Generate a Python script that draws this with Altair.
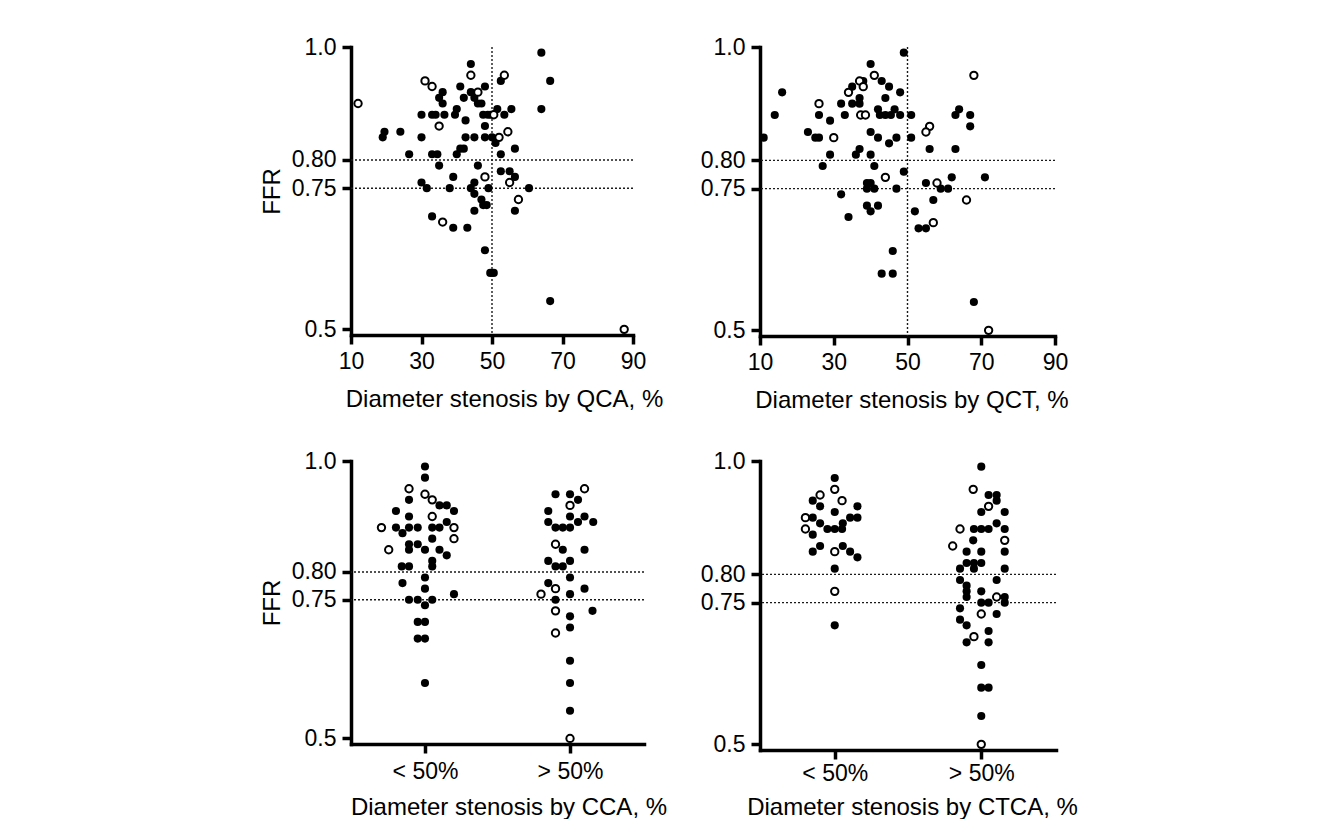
import altair as alt
import pandas as pd

# ---------------- data ----------------
THRESHOLDS = [0.80, 0.75]
CUTOFF = 50
Y_TICKS = [0.5, 0.75, 0.80, 1.0]
X_TICKS = [10, 30, 50, 70, 90]
GROUPS = ["< 50%", "> 50%"]

# (diameter stenosis %, FFR, kind)  F = filled, O = open
QCA = [
    (64, .99, "F"), (44, .97, "F"), (44, .95, "O"), (53.5, .95, "O"), (52.5, .94, "F"),
    (66.5, .94, "F"), (31, .94, "O"), (33, .93, "O"), (41, .93, "F"), (48, .93, "F"),
    (36, .92, "F"), (44, .92, "F"), (46, .92, "O"), (35, .91, "F"), (42, .91, "F"),
    (45, .91, "F"), (36, .90, "F"), (46, .90, "F"), (47, .90, "F"), (12, .90, "O"),
    (40, .89, "F"), (51.5, .89, "F"), (55.5, .89, "F"), (64, .89, "F"), (30, .88, "F"),
    (33, .88, "F"), (34, .88, "F"), (36.5, .88, "F"), (39.5, .88, "F"), (47.5, .88, "F"),
    (48.8, .88, "F"), (49.6, .88, "F"), (50.5, .88, "O"), (53.5, .88, "F"), (35, .86, "O"),
    (42.5, .87, "F"), (48, .86, "F"), (54.5, .85, "O"), (19.5, .85, "F"), (19, .84, "F"),
    (24, .85, "F"), (30, .84, "F"), (42.5, .84, "F"), (45, .84, "F"), (48, .84, "F"),
    (50, .84, "F"), (52, .84, "O"), (51, .83, "F"), (41, .82, "F"), (42, .82, "F"),
    (56.5, .82, "F"), (26.5, .81, "F"), (33, .81, "F"), (34.5, .81, "F"), (40, .81, "F"),
    (52.5, .81, "F"), (35, .79, "F"), (46, .79, "F"), (48, .77, "O"), (52.5, .78, "F"),
    (55, .78, "F"), (56.5, .77, "F"), (39, .77, "F"), (30, .76, "F"), (55, .76, "O"),
    (45, .76, "F"), (31.5, .75, "F"), (38, .75, "F"), (44, .75, "F"), (49, .75, "F"),
    (60.5, .75, "F"), (45, .74, "F"), (47, .73, "F"), (57.5, .73, "O"), (47.5, .72, "F"),
    (48.5, .72, "F"), (45, .71, "F"), (56.5, .71, "F"), (33, .70, "F"), (36, .69, "O"),
    (39, .68, "F"), (43, .68, "F"), (48, .64, "F"), (49.5, .60, "F"), (50.5, .60, "F"),
    (66.5, .55, "F"), (87.5, .50, "O"),
]

QCT = [
    (49, .99, "F"), (40, .97, "F"), (41, .95, "O"), (68, .95, "O"), (37, .94, "O"),
    (38, .94, "F"), (43, .94, "F"), (38, .93, "O"), (35, .93, "F"), (45, .93, "F"),
    (34, .92, "O"), (16, .92, "F"), (48, .92, "F"), (44, .91, "F"), (37, .91, "F"),
    (26, .90, "O"), (32, .90, "F"), (35, .90, "F"), (37, .90, "F"), (42, .89, "F"),
    (46.5, .89, "F"), (64, .89, "F"), (14, .88, "F"), (26, .88, "F"), (33, .88, "F"),
    (37.3, .88, "O"), (38.6, .88, "O"), (42.5, .88, "F"), (44, .88, "F"), (45.5, .88, "F"),
    (48, .88, "F"), (51, .88, "F"), (63, .88, "F"), (67, .88, "F"), (29, .87, "F"),
    (56, .86, "O"), (67, .86, "F"), (23, .85, "F"), (55, .85, "O"), (40, .85, "F"),
    (11, .84, "F"), (25, .84, "F"), (26, .84, "F"), (30, .84, "O"), (42, .84, "F"),
    (47, .84, "F"), (51, .84, "F"), (45, .83, "F"), (37, .82, "F"), (56, .82, "F"),
    (63, .82, "F"), (29, .81, "F"), (36, .81, "F"), (40, .81, "F"), (27, .79, "F"),
    (41, .79, "F"), (49, .78, "F"), (44, .77, "O"), (62, .77, "F"), (71, .77, "F"),
    (39, .76, "F"), (40, .76, "F"), (55, .76, "F"), (58, .76, "O"), (39, .75, "F"),
    (41, .75, "F"), (47, .75, "F"), (59, .75, "F"), (61, .75, "F"), (32, .74, "F"),
    (57, .73, "F"), (66, .73, "O"), (39, .72, "F"), (42, .72, "F"), (40, .71, "F"),
    (52, .71, "F"), (34, .70, "F"), (57, .69, "O"), (53, .68, "F"), (55, .68, "F"),
    (46, .64, "F"), (43, .60, "F"), (46, .60, "F"), (68, .55, "F"), (72, .50, "O"),
]

# (group, horizontal scatter offset within group, FFR, kind)
CCA = [
    ("< 50%", 0, .99, "F"), ("< 50%", 0, .97, "F"), ("< 50%", -.11, .95, "O"),
    ("< 50%", 0, .94, "O"), ("< 50%", -.11, .93, "F"), ("< 50%", .05, .93, "O"),
    ("< 50%", .10, .92, "F"), ("< 50%", .15, .92, "F"), ("< 50%", .20, .91, "F"),
    ("< 50%", -.20, .91, "F"), ("< 50%", -.11, .90, "F"), ("< 50%", .05, .90, "O"),
    ("< 50%", .15, .89, "F"), ("< 50%", -.30, .88, "O"), ("< 50%", -.20, .88, "F"),
    ("< 50%", -.155, .87, "F"), ("< 50%", -.11, .88, "F"), ("< 50%", -.05, .88, "F"),
    ("< 50%", .05, .88, "F"), ("< 50%", .10, .88, "F"), ("< 50%", .20, .88, "O"),
    ("< 50%", .20, .86, "O"), ("< 50%", .05, .86, "F"), ("< 50%", -.11, .85, "F"),
    ("< 50%", -.05, .85, "F"), ("< 50%", -.11, .84, "F"), ("< 50%", -.25, .84, "O"),
    ("< 50%", 0, .84, "F"), ("< 50%", .10, .84, "F"), ("< 50%", .15, .83, "F"),
    ("< 50%", .05, .82, "F"), ("< 50%", .05, .81, "F"), ("< 50%", -.16, .81, "F"),
    ("< 50%", -.11, .81, "F"), ("< 50%", 0, .79, "F"), ("< 50%", -.155, .78, "F"),
    ("< 50%", 0, .77, "F"), ("< 50%", .20, .76, "F"), ("< 50%", -.11, .75, "F"),
    ("< 50%", -.05, .75, "F"), ("< 50%", .05, .75, "F"), ("< 50%", 0, .74, "F"),
    ("< 50%", -.05, .71, "F"), ("< 50%", 0, .71, "F"), ("< 50%", -.05, .68, "F"),
    ("< 50%", 0, .68, "F"), ("< 50%", 0, .60, "F"),
    ("> 50%", .10, .95, "O"), ("> 50%", -.10, .94, "F"), ("> 50%", 0, .94, "F"),
    ("> 50%", .055, .93, "F"), ("> 50%", 0, .92, "O"), ("> 50%", -.15, .91, "F"),
    ("> 50%", 0, .90, "F"), ("> 50%", .10, .90, "F"), ("> 50%", -.15, .89, "F"),
    ("> 50%", .055, .89, "F"), ("> 50%", .16, .89, "F"), ("> 50%", -.10, .88, "F"),
    ("> 50%", -.05, .88, "F"), ("> 50%", 0, .88, "F"), ("> 50%", -.10, .85, "O"),
    ("> 50%", -.05, .84, "F"), ("> 50%", .10, .84, "F"), ("> 50%", -.15, .82, "F"),
    ("> 50%", -.10, .81, "F"), ("> 50%", -.05, .81, "F"), ("> 50%", 0, .82, "F"),
    ("> 50%", 0, .79, "F"), ("> 50%", -.15, .78, "F"), ("> 50%", -.10, .77, "O"),
    ("> 50%", .10, .77, "F"), ("> 50%", -.20, .76, "O"), ("> 50%", 0, .76, "F"),
    ("> 50%", -.10, .75, "F"), ("> 50%", -.10, .73, "O"), ("> 50%", .155, .73, "F"),
    ("> 50%", 0, .72, "F"), ("> 50%", 0, .70, "F"), ("> 50%", -.10, .69, "O"),
    ("> 50%", 0, .64, "F"), ("> 50%", 0, .60, "F"), ("> 50%", 0, .55, "F"),
    ("> 50%", 0, .50, "O"),
]

CTCA = [
    ("< 50%", 0, .97, "F"), ("< 50%", 0, .95, "O"), ("< 50%", -.10, .94, "O"),
    ("< 50%", -.15, .93, "F"), ("< 50%", .05, .93, "O"), ("< 50%", -.10, .92, "F"),
    ("< 50%", .155, .92, "F"), ("< 50%", 0, .91, "F"), ("< 50%", -.20, .90, "O"),
    ("< 50%", -.15, .90, "F"), ("< 50%", .105, .90, "F"), ("< 50%", .155, .90, "F"),
    ("< 50%", -.10, .89, "F"), ("< 50%", .055, .89, "F"), ("< 50%", -.20, .88, "O"),
    ("< 50%", -.05, .88, "F"), ("< 50%", 0, .88, "F"), ("< 50%", .05, .88, "F"),
    ("< 50%", -.15, .87, "F"), ("< 50%", -.10, .85, "F"), ("< 50%", .055, .85, "F"),
    ("< 50%", -.15, .84, "F"), ("< 50%", 0, .84, "O"), ("< 50%", .105, .84, "F"),
    ("< 50%", .155, .83, "F"), ("< 50%", 0, .81, "F"), ("< 50%", 0, .77, "O"),
    ("< 50%", 0, .71, "F"),
    ("> 50%", 0, .99, "F"), ("> 50%", -.055, .95, "O"), ("> 50%", .05, .94, "F"),
    ("> 50%", .105, .94, "F"), ("> 50%", .105, .93, "F"), ("> 50%", .05, .92, "O"),
    ("> 50%", 0, .91, "F"), ("> 50%", .16, .91, "F"), ("> 50%", .105, .89, "F"),
    ("> 50%", -.145, .88, "O"), ("> 50%", -.05, .88, "F"), ("> 50%", 0, .88, "F"),
    ("> 50%", .05, .88, "F"), ("> 50%", .16, .88, "F"), ("> 50%", -.055, .86, "F"),
    ("> 50%", .16, .86, "O"), ("> 50%", -.195, .85, "O"), ("> 50%", -.10, .84, "F"),
    ("> 50%", 0, .84, "F"), ("> 50%", .16, .84, "F"), ("> 50%", -.10, .82, "F"),
    ("> 50%", -.05, .82, "F"), ("> 50%", 0, .82, "F"), ("> 50%", -.05, .81, "F"),
    ("> 50%", -.145, .81, "F"), ("> 50%", .16, .81, "F"), ("> 50%", -.145, .79, "F"),
    ("> 50%", .105, .79, "F"), ("> 50%", -.10, .78, "F"), ("> 50%", -.10, .77, "F"),
    ("> 50%", -.10, .76, "F"), ("> 50%", 0, .77, "F"), ("> 50%", .105, .76, "O"),
    ("> 50%", .16, .76, "F"), ("> 50%", .16, .75, "F"), ("> 50%", 0, .75, "F"),
    ("> 50%", .05, .75, "F"), ("> 50%", -.145, .74, "F"), ("> 50%", 0, .73, "O"),
    ("> 50%", .105, .73, "F"), ("> 50%", -.145, .72, "F"), ("> 50%", -.10, .71, "F"),
    ("> 50%", .05, .70, "F"), ("> 50%", -.05, .69, "O"), ("> 50%", -.10, .68, "F"),
    ("> 50%", .05, .68, "F"), ("> 50%", 0, .64, "F"), ("> 50%", 0, .60, "F"),
    ("> 50%", .05, .60, "F"), ("> 50%", 0, .55, "F"), ("> 50%", 0, .50, "O"),
]

# ---------------- chart building ----------------
FONT = "Liberation Sans"
Y_DOMAIN = [0.49, 1.0]
Y_LABELS = "datum.value == 1 ? '1.0' : (datum.value == 0.5 ? '0.5' : format(datum.value, '.2f'))"

AXIS_LOOK = dict(
    domainColor="black", domainWidth=3.5, domainCap="square", domainOpacity=1,
    tickColor="black", tickWidth=3.5, tickSize=9, tickOpacity=1,
    labelFont=FONT, labelFontSize=23, labelColor="black",
    labelOverlap=False, labelFlush=False, labelBound=False,
    titleFont=FONT, titleFontSize=24, titleFontWeight="normal", titleColor="black",
    grid=False,
)


def y_axis(show_title):
    return alt.Axis(values=Y_TICKS, labelExpr=Y_LABELS, titlePadding=7, labelPadding=6,
                    title="FFR" if show_title else "", **AXIS_LOOK)


def y_scale():
    return alt.Scale(domain=Y_DOMAIN, nice=False, zero=False)


def points(base, x_enc, show_title):
    y = alt.Y("ffr:Q", scale=y_scale(), axis=y_axis(show_title))
    filled = base.transform_filter(alt.datum.kind == "F").mark_point(
        shape="circle", filled=True, color="black", size=66, opacity=1
    ).encode(x=x_enc, y=y)
    hollow = base.transform_filter(alt.datum.kind == "O").mark_point(
        shape="circle", filled=False, fill="white", fillOpacity=1, stroke="black",
        strokeWidth=2, size=54, opacity=1
    ).encode(x=x_enc, y=y)
    return filled, hollow


def hrules(show_title):
    return alt.Chart(pd.DataFrame({"t": THRESHOLDS})).mark_rule(
        color="#1a1a1a", strokeWidth=1.4, strokeDash=[2, 2]
    ).encode(y=alt.Y("t:Q", scale=y_scale(), axis=y_axis(show_title)))


def scatter_panel(rows, title, width, height, show_title, title_shift):
    df = pd.DataFrame(rows, columns=["x", "ffr", "kind"])
    base = alt.Chart(df)
    xs = alt.Scale(domain=[10, 90], nice=False, zero=False)
    xa = alt.Axis(values=X_TICKS, title=title, titlePadding=14, labelPadding=6,
                  titleX=width / 2 + title_shift, **AXIS_LOOK)
    x_enc = alt.X("x:Q", scale=xs, axis=xa)
    vrule = alt.Chart(pd.DataFrame({"c": [CUTOFF]})).mark_rule(
        color="#1a1a1a", strokeWidth=1.4, strokeDash=[2, 2]
    ).encode(x=alt.X("c:Q", scale=xs, axis=xa))
    filled, hollow = points(base, x_enc, show_title)
    return alt.layer(hrules(show_title), vrule, filled, hollow).properties(
        width=width, height=height)


def group_panel(rows, title, width, height, show_title, lab_pad, title_pad, title_shift):
    df = pd.DataFrame(rows, columns=["group", "dx", "ffr", "kind"])
    df["x"] = df["group"].map({g: i + 1 for i, g in enumerate(GROUPS)}) + df["dx"]
    base = alt.Chart(df)
    lab = "datum.value == 1 ? '%s' : '%s'" % (GROUPS[0], GROUPS[1])
    x_enc = alt.X("x:Q", scale=alt.Scale(domain=[0.49, 2.51], nice=False, zero=False),
                  axis=alt.Axis(values=[1, 2], labelExpr=lab, title=title,
                                titlePadding=title_pad, labelPadding=lab_pad,
                                titleX=width / 2 + title_shift, **AXIS_LOOK))
    filled, hollow = points(base, x_enc, show_title)
    return alt.layer(hrules(show_title), filled, hollow).properties(width=width, height=height)


p1 = scatter_panel(QCA, "Diameter stenosis by QCA, %", 282, 288, True, 12)
p2 = scatter_panel(QCT, "Diameter stenosis by QCT, %", 295, 289, False, 4)
p3 = group_panel(CCA, "Diameter stenosis by CCA, %", 293, 283, True, 7, 12, 11)
p4 = group_panel(CTCA, "Diameter stenosis by CTCA, %", 296, 289, False, 3, 10, 4)

chart = alt.concat(
    p1, p2, p3, p4, columns=2, spacing={"row": 125, "column": 116}, bounds="flush"
).properties(
    padding={"left": 252, "top": 28, "right": 10, "bottom": 0},
    background="white",
).configure_view(stroke=None)

chart.save("out.html", embed_options={"renderer": "svg", "actions": False})
